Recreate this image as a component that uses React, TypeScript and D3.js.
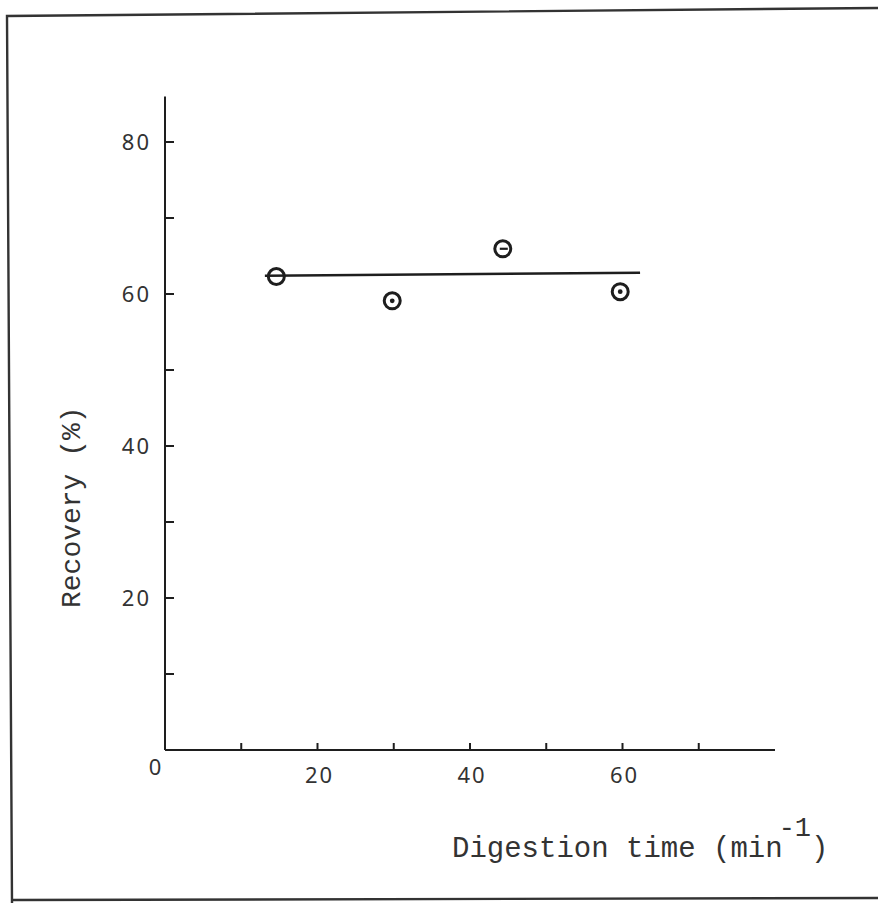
// recovery vs digestion time, redrawn from a scanned figure
import { useEffect, useRef } from 'react';
import * as d3 from 'd3';

// digestion time (min) of each sample
const times: number[] = [14.6, 29.8, 44.3, 59.7];
// recovery (%) of each sample
const recovery: number[] = [62.3, 59.1, 65.95, 60.3];
// marker kind drawn inside each circle
const markerKinds: string[] = ['open', 'dot', 'dash', 'dot'];
// ends of the hand drawn mean line [time, recovery]
const meanLine: [number, number][] = [[13.1, 62.4], [62.3, 62.8]];

const xMajorTicks: number[] = [20, 40, 60];
const xMinorTicks: number[] = [10, 20, 30, 40, 50, 60, 70];
const yMajorTicks: number[] = [20, 40, 60, 80];
const yMinorTicks: number[] = [10, 20, 30, 40, 50, 60, 70, 80];

const xTitle = 'Digestion time (min';
const xTitleSup = '-1';
const yTitle = 'Recovery (%)';

export default function App() {
  const ref = useRef<SVGSVGElement>(null);
  const width = 878;
  const height = 903;

  useEffect(() => {
    const svg = d3.select(ref.current);
    svg.selectAll('*').remove();

    const ink = '#1e1e1e';
    const x = d3.scaleLinear().domain([0, 80]).range([165, 775]);
    const y = d3.scaleLinear().domain([0, 80]).range([750, 142]);

    svg.append('rect').attr('width', width).attr('height', height).attr('fill', '#fff');

    // scanned frame, slightly skewed
    svg.append('path')
      .attr('d', 'M878,8 L7,16 L12,903 M12,900 L878,898')
      .attr('fill', 'none')
      .attr('stroke', '#333')
      .attr('stroke-width', 2.4);

    // axes
    svg.append('line')
      .attr('x1', x(0)).attr('x2', x(0))
      .attr('y1', y(0)).attr('y2', y(86))
      .attr('stroke', ink).attr('stroke-width', 2);
    svg.append('line')
      .attr('x1', x(0)).attr('x2', x(80))
      .attr('y1', y(0)).attr('y2', y(0))
      .attr('stroke', ink).attr('stroke-width', 2);

    svg.selectAll('.ytick').data(yMinorTicks).enter()
      .append('line')
      .attr('x1', x(0)).attr('x2', x(0) + 9)
      .attr('y1', d => y(d)).attr('y2', d => y(d))
      .attr('stroke', ink).attr('stroke-width', 2);
    svg.selectAll('.xtick').data(xMinorTicks).enter()
      .append('line')
      .attr('x1', d => x(d)).attr('x2', d => x(d))
      .attr('y1', y(0)).attr('y2', y(0) - 7)
      .attr('stroke', ink).attr('stroke-width', 2);

    // tick labels (hand lettered in the original)
    const labelFont = '"Noto Sans", "DejaVu Sans", sans-serif';
    svg.selectAll('.ylab').data(yMajorTicks).enter()
      .append('text')
      .attr('x', x(0) - 14)
      .attr('y', d => y(d))
      .attr('dy', '0.36em')
      .attr('text-anchor', 'end')
      .attr('font-family', labelFont)
      .attr('font-size', 22)
      .attr('letter-spacing', 2)
      .attr('fill', '#333')
      .text(d => d);
    svg.selectAll('.xlab').data(xMajorTicks).enter()
      .append('text')
      .attr('x', d => x(d) + 2)
      .attr('y', y(0) + 33)
      .attr('text-anchor', 'middle')
      .attr('font-family', labelFont)
      .attr('font-size', 22)
      .attr('letter-spacing', 2)
      .attr('fill', '#333')
      .text(d => d);
    svg.append('text')
      .attr('x', x(0) - 10)
      .attr('y', y(0) + 25)
      .attr('text-anchor', 'middle')
      .attr('font-family', labelFont)
      .attr('font-size', 22)
      .attr('fill', '#333')
      .text('0');

    // mean line
    svg.append('path')
      .attr('d', d3.line<[number, number]>().x(d => x(d[0])).y(d => y(d[1]))(meanLine))
      .attr('fill', 'none')
      .attr('stroke', ink)
      .attr('stroke-width', 2.4);

    // points
    const pts = times.map((t, i) => ({ t, r: recovery[i], kind: markerKinds[i] }));
    const g = svg.selectAll('.pt').data(pts).enter()
      .append('g')
      .attr('transform', d => 'translate(' + x(d.t) + ',' + y(d.r) + ')');
    g.append('circle')
      .attr('r', 8)
      .attr('fill', d => (d.kind === 'open' ? 'none' : '#fff'))
      .attr('stroke', ink)
      .attr('stroke-width', 3);
    g.filter(d => d.kind === 'dot')
      .append('circle')
      .attr('r', 2.4)
      .attr('fill', ink);
    g.filter(d => d.kind === 'dash')
      .append('line')
      .attr('x1', -3).attr('x2', 5)
      .attr('y1', 0).attr('y2', 0)
      .attr('stroke', ink)
      .attr('stroke-width', 2.2);

    // axis titles, typewritten
    const typeFont = '"Liberation Mono", "Courier New", monospace';
    const xt = svg.append('text')
      .attr('x', 452)
      .attr('y', 857)
      .attr('font-family', typeFont)
      .attr('font-size', 29)
      .attr('fill', '#333');
    xt.append('tspan').text(xTitle);
    xt.append('tspan').attr('dx', -4).attr('dy', -21).attr('font-size', 27).text(xTitleSup);
    xt.append('tspan').attr('dy', 21).text(')');

    svg.append('text')
      .attr('transform', 'translate(80,608) rotate(-90)')
      .attr('font-family', typeFont)
      .attr('font-size', 28)
      .attr('fill', '#333')
      .text(yTitle);
  }, []);

  return (
    <svg
      ref={ref}
      width={width}
      height={height}
      style={{ position: 'absolute', left: 0, top: 0 }}
    />
  );
}
